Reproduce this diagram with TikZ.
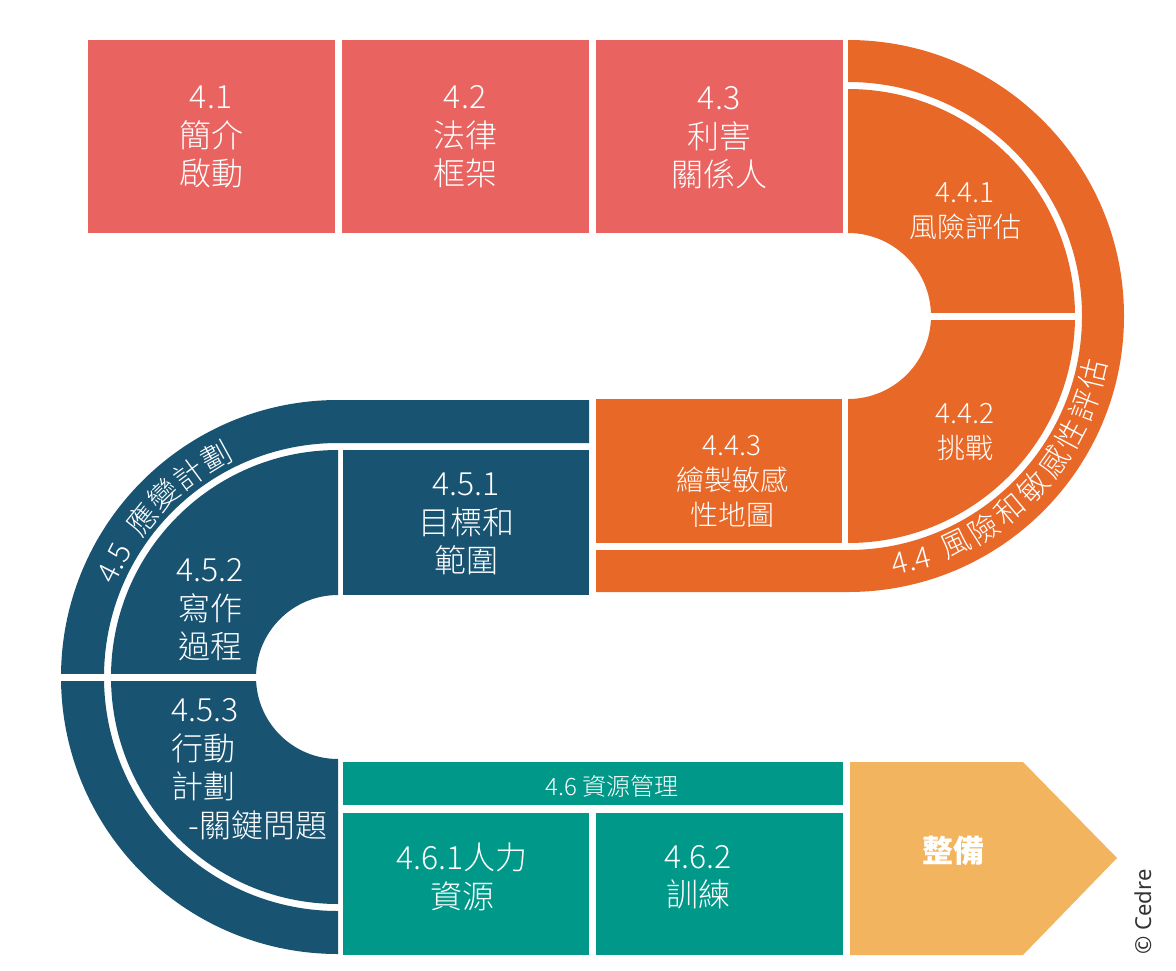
\documentclass[tikz,border=0pt]{standalone}
\usepackage{fontspec}
\IfFontExistsTF{Noto Sans CJK TC Light}
  {\newfontfamily\cjk{Noto Sans CJK TC Light}}
  {\newfontfamily\cjk{Noto Sans CJK TC}}
\newfontfamily\cjkbold{Noto Sans CJK TC}
\newfontfamily\latinsans{Noto Sans}
\usetikzlibrary{calc}
\definecolor{cred}{HTML}{E96360}
\definecolor{corange}{HTML}{E86828}
\definecolor{cblue}{HTML}{185371}
\definecolor{cteal}{HTML}{009989}
\definecolor{carrow}{HTML}{F2B45E}
\begin{document}
\begin{tikzpicture}[x=1pt,y=-1pt,
  lbl/.style={text=white, align=center, inner sep=0pt},
  big/.style={lbl, font=\cjk\fontsize{32}{38.5}\selectfont},
  mid/.style={lbl, font=\cjk\fontsize{28}{35}\selectfont},
  small/.style={lbl, font=\cjk\fontsize{24}{24}\selectfont},
  ringch/.style={lbl, font=\cjk\fontsize{30}{30}\selectfont}
]
\useasboundingbox (0,0) rectangle (1176,970);
\fill[white] (0,0) rectangle (1176,970);

% red boxes
\fill[cred] (88,40) rectangle (335,233);
\fill[cred] (342,40) rectangle (589,233);
\fill[cred] (596,40) rectangle (843,233);

% orange U
\coordinate (oc) at (848,316);
\fill[corange] (596,550) -- (848,550) arc[start angle=90,end angle=-90,radius=234]
  -- (848,40) arc[start angle=-90,end angle=90,radius=276] -- (596,592) -- cycle;
\fill[corange] (848,89) arc[start angle=-90,end angle=90,radius=227]
  -- (848,399) arc[start angle=90,end angle=-90,radius=83] -- cycle;
\fill[white] (925,313) rectangle (1078,319.5);
\fill[corange] (596,399) rectangle (842,543);

% blue U
\coordinate (bc) at (338,677);
\fill[cblue] (589,400) -- (589,443) -- (338,443) arc[start angle=270,end angle=90,radius=234]
  -- (338,954) arc[start angle=90,end angle=270,radius=277] -- cycle;
\fill[cblue] (338,450) arc[start angle=270,end angle=90,radius=227]
  -- (338,759) arc[start angle=90,end angle=270,radius=82] -- cycle;
\fill[white] (55,674) rectangle (262,681);
\fill[cblue] (343,450) rectangle (589,595);

% teal
\fill[cteal] (343,762) rectangle (843,805);
\fill[cteal] (343,813) rectangle (589,955);
\fill[cteal] (596,813) rectangle (843,955);

% arrow
\fill[carrow] (850,762) -- (1023,762) -- (1117,858) -- (1023,955) -- (850,955) -- cycle;

% ring label 4.4 (tops toward the centre)
\node[ringch, rotate=14.5] (o0) at ($(oc)+(75.5:253)$) {4.4};
\foreach \c [count=\i] in {風,險,和,敏,感,性,評,估}{
  \pgfmathsetmacro\ang{64.8-(\i-1)*7.35}
  \node[ringch, rotate=90-\ang] (o\i) at ($(oc)+(\ang:252)$) {\c};
}
% ring label 4.5 (tops outward)
\node[ringch, rotate=63] (b0) at ($(bc)+(207:251)$) {4.5};
\foreach \c [count=\i] in {應,變,計,劃}{
  \pgfmathsetmacro\ang{218.7+(\i-1)*7.5}
  \node[ringch, rotate=-\ang-90] (b\i) at ($(bc)+(\ang:252)$) {\c};
}

% labels
\node[big] (n41) at (211,137) {4.1\\簡介\\啟動};
\node[big] (n42) at (465,137) {4.2\\法律\\框架};
\node[big] (n43) at (719,138) {4.3\\利害\\關係人};
\node[mid] (n441) at (965,211) {4.4.1\\風險評估};
\node[mid] (n442) at (965,432) {4.4.2\\挑戰};
\node[mid] (n443) at (732,481) {4.4.3\\繪製敏感\\性地圖};
\node[big] (n451) at (466,524) {4.5.1\\目標和\\範圍};
\node[big] (n452) at (210,610) {4.5.2\\寫作\\過程};
\node[big, align=left, anchor=west] (n453) at (171,769) {4.5.3\\行動\\計劃\\\hspace*{0.55em}-關鍵問題};
\node[small] (n46) at (612,786) {4.6 資源管理};
\node[big] (n461) at (462,877) {4.6.1人力\\資源};
\node[big] (n462) at (698,877) {4.6.2\\訓練};
\node[lbl, font=\cjkbold\bfseries\fontsize{31}{31}\selectfont] (nzb) at (953,851) {整備};
\node[rotate=90, inner sep=0pt, text=black!80, font=\latinsans\fontsize{22}{22}\selectfont] (cedre) at (1143,912) {© Cedre};
\end{tikzpicture}
\end{document}
